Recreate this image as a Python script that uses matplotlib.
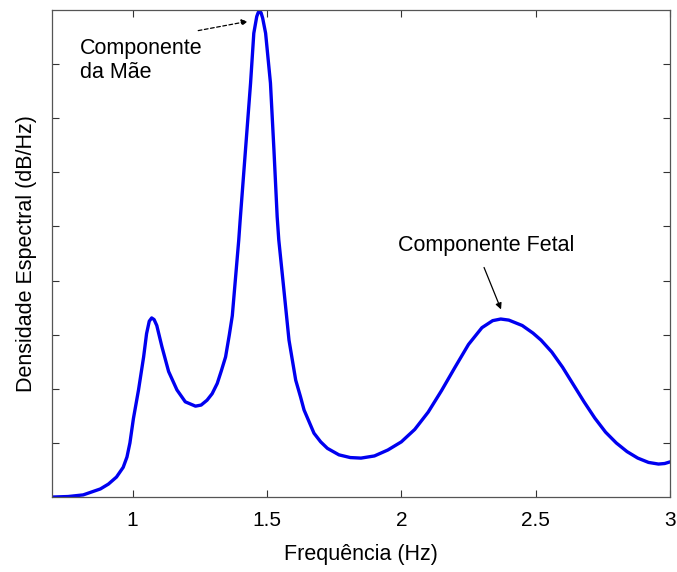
import matplotlib
matplotlib.use("Agg")
import matplotlib.pyplot as plt

plt.rcParams['font.family'] = ['Liberation Sans', 'DejaVu Sans']

freq = [0.70, 0.76, 0.816, 0.88, 0.91, 0.94, 0.965, 0.979, 0.99, 1.003,
        1.022, 1.041, 1.052, 1.062, 1.071, 1.080, 1.090, 1.109, 1.134, 1.165,
        1.196, 1.234, 1.255, 1.277, 1.296, 1.315, 1.33, 1.346, 1.36, 1.371,
        1.383, 1.395, 1.40, 1.42, 1.439, 1.451, 1.462, 1.468, 1.473, 1.478,
        1.484, 1.495, 1.513, 1.526, 1.538, 1.544, 1.563, 1.582, 1.607, 1.625,
        1.638, 1.675, 1.70, 1.725, 1.768, 1.81, 1.85, 1.90, 1.95, 2.00,
        2.05, 2.10, 2.15, 2.20, 2.25, 2.30, 2.34, 2.37, 2.40, 2.45,
        2.49, 2.52, 2.56, 2.60, 2.64, 2.68, 2.72, 2.76, 2.80, 2.84,
        2.88, 2.92, 2.957, 2.98, 3.00]
psd = [0.00, 0.01, 0.04, 0.15, 0.24, 0.37, 0.55, 0.74, 1.00, 1.45,
       1.98, 2.59, 3.02, 3.25, 3.31, 3.28, 3.17, 2.78, 2.32, 1.98,
       1.76, 1.68, 1.70, 1.79, 1.91, 2.10, 2.33, 2.59, 3.00, 3.35,
       4.05, 4.75, 5.10, 6.41, 7.65, 8.57, 8.88, 8.96, 8.98, 8.95,
       8.85, 8.57, 7.65, 6.41, 5.18, 4.75, 3.83, 2.90, 2.16, 1.85,
       1.61, 1.18, 1.02, 0.90, 0.78, 0.73, 0.72, 0.76, 0.87, 1.02,
       1.25, 1.57, 1.97, 2.40, 2.82, 3.13, 3.26, 3.29, 3.27, 3.17,
       3.03, 2.90, 2.68, 2.40, 2.08, 1.76, 1.46, 1.20, 1.00, 0.84,
       0.72, 0.64, 0.61, 0.62, 0.65]

xticks = [1, 1.5, 2, 2.5, 3]
xticklabels = ['1', '1.5', '2', '2.5', '3']
yticks = [1, 2, 3, 4, 5, 6, 7, 8]

fig = plt.figure(figsize=(6.77, 5.72), dpi=100)
ax = fig.add_axes([0.0768, 0.131, 0.9129, 0.8515])
ax.plot(freq, psd, color='#0000f0', lw=2.4, solid_joinstyle='round',
        solid_capstyle='round')
ax.set_xlim(0.7, 3.0)
ax.set_ylim(0, 9)
ax.set_xticks(xticks)
ax.set_xticklabels(xticklabels)
ax.set_yticks(yticks)
ax.set_yticklabels([])
ax.tick_params(direction='in', length=5, width=0.8, top=True, right=True,
               labelsize=15, pad=10, colors='#333333', labelcolor='black')
for s in ax.spines.values():
    s.set_color('#555555')
    s.set_linewidth(0.9)

ax.set_xlabel('Frequência (Hz)', fontsize=15.5, labelpad=10)
ax.set_ylabel('Densidade Espectral (dB/Hz)', fontsize=15.5, labelpad=1)

ax.text(0.8045, 8.48, 'Componente\nda Mãe', fontsize=15.5, va='top', ha='left',
        linespacing=1.15)
ax.annotate('', xy=(1.439, 8.80), xytext=(1.234, 8.61),
            arrowprops=dict(arrowstyle='-|>', color='black', lw=0.9,
                            linestyle=(0, (3, 2)), mutation_scale=9))
ax.text(1.987, 4.85, 'Componente Fetal', fontsize=15.5, va='top', ha='left')
ax.annotate('', xy=(2.375, 3.42), xytext=(2.304, 4.29),
            arrowprops=dict(arrowstyle='-|>', color='black', lw=0.9,
                            mutation_scale=9))

fig.savefig('out.png', dpi=100)
